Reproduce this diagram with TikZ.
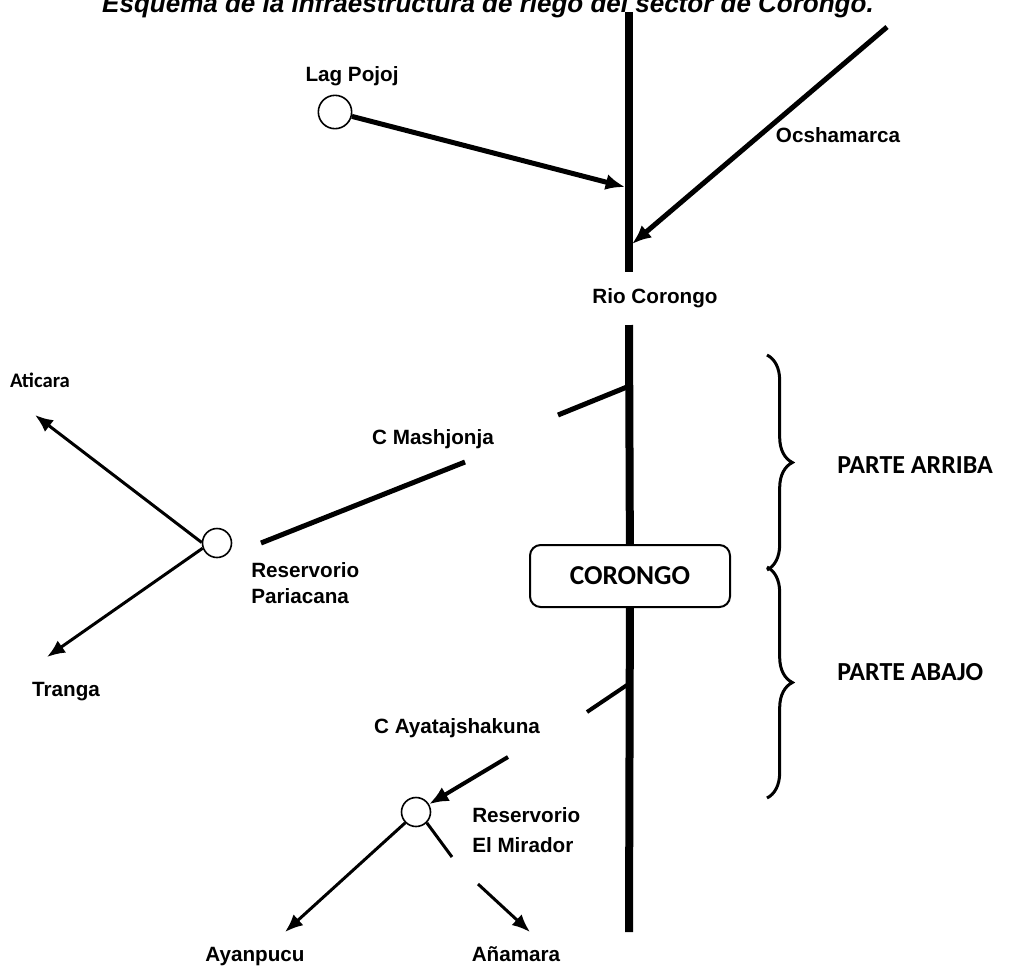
\documentclass[tikz,border=0pt]{standalone}
\usepackage{fontspec}
\setmainfont{Liberation Sans}
\newfontfamily\calibrifont{Carlito}
\usetikzlibrary{arrows.meta, positioning, decorations.pathreplacing}

\begin{document}
\begin{tikzpicture}[x=0.75pt, y=-0.75pt,
            % Styles
            place/.style={font=\fontsize{15.5}{19.5}\selectfont\bfseries, inner sep=0pt},
            calplace/.style={font=\calibrifont\bfseries\fontsize{19.5}{23}\selectfont, inner sep=0pt},
            reservoir/.style={circle, draw=black, line width=1.2pt, fill=white, minimum size=21.75pt, inner sep=0pt},
            town/.style={rectangle, draw=black, line width=1.5pt, fill=white, rounded corners=8pt, minimum width=150pt, minimum height=46.5pt},
            river/.style={draw, line width=6pt},
            canal/.style={draw, -{Latex[length=14.5pt, width=12pt]}, line width=3.75pt},
            thincanal/.style={draw, -{Latex[length=13.5pt, width=11pt]}, line width=2.25pt},
            bracket/.style={draw, line width=2.25pt, decorate, decoration={brace, amplitude=19pt}}
        ]
        \useasboundingbox (0,0) rectangle (1016,965);
        \clip (0,0) rectangle (1016,965);

        % Title
        \node [font=\fontsize{19.5}{23}\selectfont\bfseries\itshape, anchor=base, inner sep=0pt] (title) at (488,12)
            {Esquema de la infraestructura de riego del sector de Corongo.};

        % Rio Corongo
        \coordinate (riotop) at (629,12);
        \coordinate (rioend) at (629,272);
        \coordinate (riostart) at (629,325);
        \coordinate (riobottom) at (629,932);
        \node [town] (corongo) at (630,576) {\calibrifont\bfseries\fontsize{20.5}{24}\selectfont CORONGO};
        \path [river] (riotop) -- (rioend);
        \path [river] (riostart) -- (corongo);
        \path [river] (corongo) -- (riobottom);
        \node [place] (riolabel) at (655,298) {Rio Corongo};

        % Lag Pojoj
        \node [reservoir, minimum size=25pt] (pojoj) at (335,112) {};
        \node [place] (pojojlabel) at (352,76) {Lag Pojoj};
        \coordinate (pojojin) at (625,187);
        \path [canal] (pojoj) -- (pojojin);

        % Ocshamarca
        \coordinate (ocshtop) at (887,27);
        \coordinate (ocshin) at (632,244);
        \path [canal] (ocshtop) -- (ocshin);
        \node [place] (ocshlabel) at (838,135) {Ocshamarca};

        % C Mashjonja and Reservorio Pariacana
        \coordinate (mashA) at (627,387);
        \coordinate (mashB) at (558,415);
        \coordinate (mashC) at (465,462);
        \coordinate (mashD) at (261,543);
        \path [canal, -] (mashA) -- (mashB);
        \path [canal, -] (mashC) -- (mashD);
        \node [place] (mashlabel) at (433,439) {C Mashjonja};
        \node [reservoir] (pariacana) at (217,543) {};
        \node [place, align=left, anchor=west] (parilabel) at (251,583) {Reservorio\\Pariacana};
        \coordinate (aticaratip) at (35,415);
        \coordinate (trangatip) at (47,657);
        \path [thincanal] (pariacana.178) -- (aticaratip);
        \path [thincanal] (pariacana.200) -- (trangatip);
        \node [calplace, font=\calibrifont\bfseries\fontsize{15.5}{18}\selectfont] (aticara) at (40,380) {Aticara};
        \node [place] (tranga) at (66,692) {Tranga};

        % C Ayatajshakuna and Reservorio El Mirador
        \coordinate (ayaA) at (627,685);
        \coordinate (ayaB) at (587,712);
        \coordinate (ayaC) at (508,757);
        \node [reservoir] (mirador) at (416,812) {};
        \path [canal, -, line width=3pt] (ayaA) -- (ayaB);
        \path [canal, line width=3pt] (ayaC) -- (mirador);
        \node [place] (ayalabel) at (457,728) {C Ayatajshakuna};
        \node [place, align=left, anchor=west, font=\fontsize{15.5}{22.5}\selectfont\bfseries] (mirlabel) at (472,830) {Reservorio\\El Mirador};
        \coordinate (ayanputip) at (285,932);
        \coordinate (anamaraB) at (452,857);
        \coordinate (anamaraC) at (478,884);
        \coordinate (anamaratip) at (530,932);
        \path [thincanal] (mirador.225) -- (ayanputip);
        \path [thincanal, -] (mirador.315) -- (anamaraB);
        \path [thincanal] (anamaraC) -- (anamaratip);
        \node [place, anchor=base] (ayanpucu) at (255,961) {Ayanpucu};
        \node [place, anchor=base] (anamara) at (516,961) {Añamara};

        % Partes
        \coordinate (arribatop) at (767,355);
        \coordinate (arribabot) at (767,570);
        \coordinate (abajotop) at (767,567);
        \coordinate (abajobot) at (767,798);
        \path [bracket] (arribatop) -- (arribabot);
        \path [bracket] (abajotop) -- (abajobot);
        \node [calplace, anchor=west] (arriba) at (837,465) {PARTE ARRIBA};
        \node [calplace, anchor=west] (abajo) at (837,672) {PARTE ABAJO};

    \end{tikzpicture}
\end{document}
